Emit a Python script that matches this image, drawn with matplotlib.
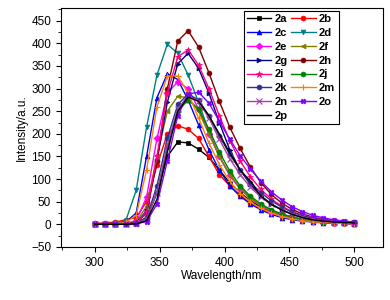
import matplotlib
matplotlib.use("Agg")
import matplotlib.pyplot as plt
from matplotlib.ticker import MultipleLocator

plt.rcParams['font.family'] = ['Liberation Sans', 'DejaVu Sans']

wavelength = [300, 308, 316, 324, 332, 340, 348, 356, 364, 372, 380, 388, 396,
              404, 412, 420, 428, 436, 444, 452, 460, 468, 476, 484, 492, 500]

s2a = [0, 0, 0, 1, 3, 15, 70, 150, 182, 180, 166, 148, 120, 92, 70, 52, 38, 27, 19, 13, 9, 6, 4, 3, 2, 1]
s2b = [2, 3, 5, 10, 15, 50, 130, 200, 218, 210, 190, 150, 110, 85, 64, 48, 35, 25, 18, 13, 9, 6, 4, 3, 2, 1]
s2c = [0, 0, 1, 5, 25, 150, 280, 333, 320, 275, 220, 165, 120, 85, 62, 45, 32, 22, 15, 10, 7, 5, 3, 2, 2, 1]
s2d = [1, 1, 2, 8, 75, 215, 330, 398, 378, 330, 270, 205, 150, 110, 80, 58, 42, 30, 22, 16, 11, 8, 6, 4, 3, 2]
s2e = [0, 0, 1, 2, 8, 60, 190, 290, 315, 300, 255, 200, 150, 108, 78, 56, 40, 28, 20, 14, 10, 7, 5, 3, 2, 2]
s2f = [0, 0, 0, 1, 5, 40, 150, 250, 283, 280, 250, 200, 150, 110, 80, 58, 42, 30, 21, 15, 10, 7, 5, 3, 2, 2]
s2g = [0, 0, 0, 1, 3, 30, 140, 270, 355, 378, 345, 290, 225, 165, 120, 88, 63, 45, 32, 22, 15, 10, 7, 5, 3, 2]
s2h = [0, 0, 0, 1, 3, 25, 140, 300, 405, 428, 392, 335, 272, 215, 168, 126, 92, 66, 47, 33, 23, 16, 11, 8, 5, 4]
s2i = [0, 0, 0, 1, 3, 28, 150, 290, 370, 386, 352, 300, 240, 185, 140, 105, 77, 56, 40, 28, 20, 14, 10, 7, 5, 3]
s2j = [0, 0, 0, 0, 2, 12, 70, 170, 250, 275, 255, 210, 160, 118, 85, 62, 45, 32, 23, 16, 11, 8, 5, 4, 3, 2]
s2k = [0, 0, 0, 0, 2, 15, 85, 190, 265, 288, 275, 240, 195, 155, 120, 92, 70, 52, 38, 27, 19, 13, 9, 6, 4, 3]
s2m = [0, 0, 1, 4, 20, 120, 260, 328, 328, 290, 235, 180, 132, 95, 68, 49, 35, 25, 17, 12, 8, 6, 4, 3, 2, 1]
s2n = [0, 0, 0, 0, 2, 12, 70, 175, 255, 285, 272, 235, 188, 145, 110, 82, 60, 44, 32, 23, 16, 11, 8, 5, 4, 3]
s2o = [0, 0, 0, 0, 1, 6, 45, 140, 240, 288, 292, 268, 228, 188, 152, 122, 95, 72, 54, 39, 28, 20, 14, 10, 7, 5]
s2p = [0, 0, 0, 0, 1, 8, 55, 160, 250, 281, 272, 240, 200, 158, 120, 95, 62, 44, 32, 22, 15, 10, 7, 5, 4, 3]

labels = ['2a', '2b', '2c', '2d', '2e', '2f', '2g', '2h', '2i', '2j', '2k', '2m', '2n', '2o', '2p']
series = [s2a, s2b, s2c, s2d, s2e, s2f, s2g, s2h, s2i, s2j, s2k, s2m, s2n, s2o, s2p]
colors = ['#000000', '#FF0000', '#0000FF', '#008080', '#FF00FF', '#808000', '#000080',
          '#800000', '#FF0080', '#008000', '#2E3192', '#FF8000', '#A040A0', '#8000FF', '#000000']
markers = ['s', 'o', '^', 'v', 'D', '<', '>', 'o', '*', 'o', 'o', '+', 'x', 'X', None]

fig = plt.figure(figsize=(3.9, 3.0), dpi=100)
ax = fig.add_axes([0.156, 0.177, 0.826, 0.796])

handles = {}
for lab, ys, c, m in zip(labels, series, colors, markers):
    ms = 3.5
    if m == '*':
        ms = 5
    if m in ('+', 'x'):
        ms = 4
    h, = ax.plot(wavelength, ys, color=c, lw=1.0, marker=m, markersize=ms,
                 markeredgewidth=0.8 if m in ('+', 'x') else 0.5, label=lab)
    handles[lab] = h

order = ['2a', '2c', '2e', '2g', '2i', '2k', '2n', '2p',
         '2b', '2d', '2f', '2h', '2j', '2m', '2o']
leg = ax.legend([handles[k] for k in order], order, ncol=2, loc='upper right',
                bbox_to_anchor=(0.862, 0.988), prop={'weight': 'bold', 'size': 8},
                frameon=True, fancybox=False, edgecolor='black', framealpha=1,
                handlelength=2.2, handletextpad=0.3, columnspacing=0.3,
                labelspacing=0.34, borderpad=0.3, borderaxespad=0.0)
leg.get_frame().set_linewidth(0.8)

ax.set_xlim(274, 522)
ax.set_ylim(-50, 478)
ax.xaxis.set_major_locator(MultipleLocator(50))
ax.xaxis.set_minor_locator(MultipleLocator(25))
ax.yaxis.set_major_locator(MultipleLocator(50))
ax.yaxis.set_minor_locator(MultipleLocator(25))
ax.tick_params(which='both', direction='out', top=False, right=False, labelsize=8.5)
ax.tick_params(which='major', length=3.5, width=0.8)
ax.tick_params(which='minor', length=2, width=0.6)
for sp in ax.spines.values():
    sp.set_linewidth(0.8)

ax.set_xlabel('Wavelength/nm', fontsize=8.5, labelpad=1)
ax.set_ylabel('Intensity/a.u.', fontsize=8.5, labelpad=2)

fig.savefig('out.png', dpi=100)
